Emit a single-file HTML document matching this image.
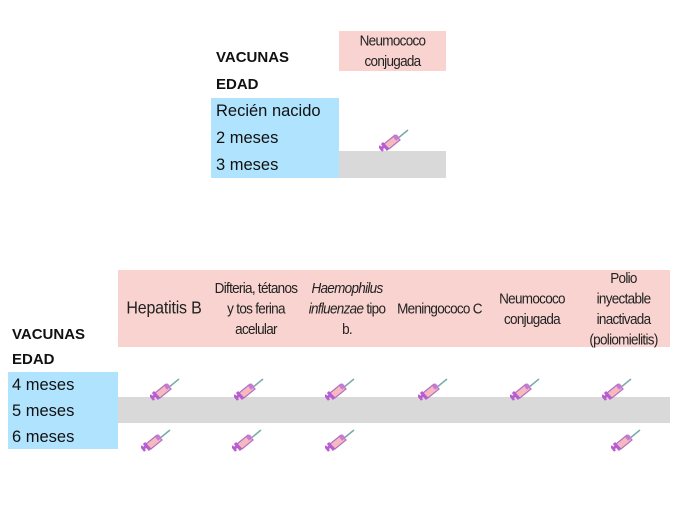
<!DOCTYPE html>
<html><head><meta charset="utf-8"><style>
body{margin:0;width:680px;height:510px;background:#fff;position:relative;overflow:hidden;font-family:"Liberation Sans",sans-serif}
.a{position:absolute}
.pk{background:#f8d3cf}
.bl{background:#b0e3fd}
.gr{background:#d9d9d9}
.lbl{font-size:16.5px;color:#111}
.b{font-weight:bold;font-size:15px;color:#111}
.h{position:absolute;font-size:13.5px;letter-spacing:-0.7px;text-align:center;color:#222;line-height:19px;display:flex;align-items:center;justify-content:center}
.h>span{display:inline-block;transform:scaleY(1.08)}
svg.s{position:absolute;width:30px;height:23px}
</style></head><body>
<svg width="0" height="0" style="position:absolute"><defs>
<g id="sy">
<line x1="18" y1="10" x2="29" y2="1" stroke="#7aa8a8" stroke-width="1.5"/>
<polygon points="5,15 16,6 21,11 10,20" fill="#f6b9c0" stroke="#b06fc0" stroke-width="1.2"/>
<rect x="15" y="6.5" width="4.5" height="4.5" transform="rotate(-40 17 8.5)" fill="#c97ad6"/>
<line x1="3" y1="14" x2="9" y2="21" stroke="#b85dd0" stroke-width="3"/>
<line x1="6" y1="17" x2="1" y2="20" stroke="#b85dd0" stroke-width="3"/>
<line x1="0" y1="17" x2="4" y2="22" stroke="#b85dd0" stroke-width="2.5"/>
</g></defs></svg>

<div class="a pk" style="left:339px;top:31px;width:107px;height:40px"></div>
<div class="h" style="left:339px;top:31px;width:107px;height:40px"><span>Neumococo<br>conjugada</span></div>
<div class="a b" style="left:216px;top:49px">VACUNAS</div>
<div class="a b" style="left:216px;top:76px">EDAD</div>
<div class="a bl" style="left:211px;top:98px;width:128px;height:80px"></div>
<div class="a gr" style="left:339px;top:151px;width:107px;height:27px"></div>
<div class="a lbl" style="left:216px;top:102px">Recién nacido</div>
<div class="a lbl" style="left:216px;top:129px">2 meses</div>
<div class="a lbl" style="left:216px;top:156px">3 meses</div>
<svg class="s" style="left:379px;top:129px"><use href="#sy"/></svg>

<div class="a pk" style="left:118px;top:270px;width:552px;height:77px"></div>
<div class="h" style="left:118px;top:270px;width:92px;height:77px;font-size:16px;letter-spacing:-0.2px"><span>Hepatitis B</span></div>
<div class="h" style="left:207px;top:270px;width:98px;height:77px"><span>Difteria, tétanos<br>y tos ferina<br>acelular</span></div>
<div class="h" style="left:300px;top:270px;width:94px;height:77px"><span><i>Haemophilus<br>influenzae</i> tipo<br>b.</span></div>
<div class="h" style="left:392px;top:270px;width:95px;height:77px"><span>Meningococo C</span></div>
<div class="h" style="left:487px;top:270px;width:90px;height:77px"><span>Neumococo<br>conjugada</span></div>
<div class="h" style="left:577px;top:270px;width:93px;height:77px"><span>Polio<br>inyectable<br>inactivada<br>(poliomielitis)</span></div>
<div class="a b" style="left:12px;top:326px">VACUNAS</div>
<div class="a b" style="left:12px;top:351px">EDAD</div>
<div class="a bl" style="left:8px;top:372px;width:110px;height:77px"></div>
<div class="a gr" style="left:118px;top:397px;width:552px;height:26px"></div>
<div class="a lbl" style="left:12px;top:376px">4 meses</div>
<div class="a lbl" style="left:12px;top:402px">5 meses</div>
<div class="a lbl" style="left:12px;top:428px">6 meses</div>

<svg class="s" style="left:150px;top:378px"><use href="#sy"/></svg>
<svg class="s" style="left:234px;top:378px"><use href="#sy"/></svg>
<svg class="s" style="left:325px;top:378px"><use href="#sy"/></svg>
<svg class="s" style="left:418px;top:378px"><use href="#sy"/></svg>
<svg class="s" style="left:510px;top:378px"><use href="#sy"/></svg>
<svg class="s" style="left:602px;top:378px"><use href="#sy"/></svg>
<svg class="s" style="left:141px;top:429px"><use href="#sy"/></svg>
<svg class="s" style="left:232px;top:429px"><use href="#sy"/></svg>
<svg class="s" style="left:325px;top:429px"><use href="#sy"/></svg>
<svg class="s" style="left:611px;top:429px"><use href="#sy"/></svg>
</body></html>
